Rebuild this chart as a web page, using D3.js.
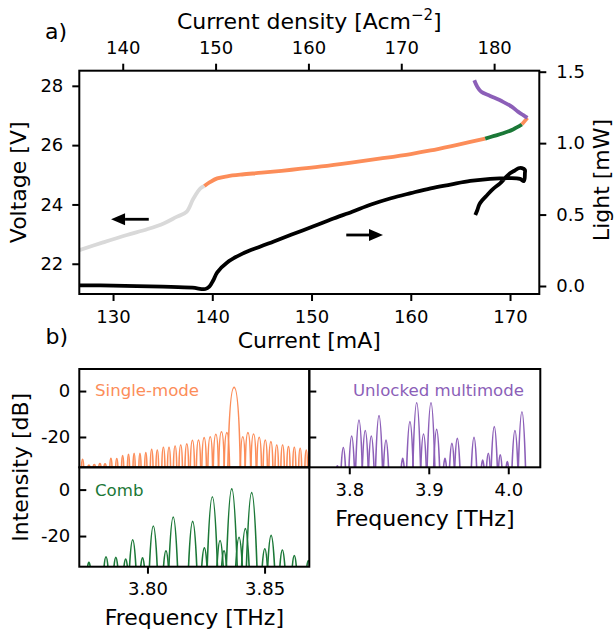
<!DOCTYPE html>
<html>
<head>
<meta charset="utf-8">
<script src="https://cdn.jsdelivr.net/npm/d3@7"></script>
<style>
  body { margin: 0; background: #fff; }
  text { font-family: "DejaVu Sans", sans-serif; }
</style>
</head>
<body>
<div id="chart"></div>
<script>
var w = 614, h = 632;

// a) voltage, split by regime (current mA / voltage V)
var greyI = [126.6, 129, 131.4, 133.5, 135.1, 136.4, 137.4, 138.1, 138.8, 139.2];
var greyV = [22.46, 22.72, 22.97, 23.17, 23.36, 23.58, 23.75, 24.2, 24.54, 24.62];
var singleI = [139.2, 139.8, 140.5, 141.5, 143, 145, 148, 151, 154, 157, 160, 162, 164, 166, 167.5];
var singleV = [24.62, 24.76, 24.88, 24.95, 25.01, 25.07, 25.17, 25.28, 25.41, 25.55, 25.7, 25.82, 25.96, 26.11, 26.22];
var combI = [167.5, 168.4, 169.3, 170.3, 171.2];
var combV = [26.22, 26.31, 26.4, 26.53, 26.7];
var single2I = [171.2, 171.75];
var single2V = [26.7, 26.92];
var unlockedI = [171.75, 171.3, 170.8, 170.2, 169.3, 168.0, 167.1, 166.7, 166.4];
var unlockedV = [26.92, 27.02, 27.13, 27.29, 27.46, 27.66, 27.8, 27.97, 28.19];

// a) light output (current mA / power mW)
var lightI = [126.6, 130, 135, 138, 139.3, 139.7, 140.1, 140.5, 141.5, 143, 144.8, 146.2, 148, 150.2, 152, 154.1,
  156, 158, 160, 162, 164, 166, 168, 170, 171.0, 171.4, 171.5, 171.5, 171.2, 170.85, 170.4, 170.0, 169.5,
  169.0, 168.3, 167.7, 167.2, 166.9, 166.7, 166.5];
var lightP = [0.005, 0.003, -0.005, -0.012, -0.021, -0.005, 0.04, 0.096, 0.165, 0.225, 0.275, 0.312, 0.36, 0.418, 0.467, 0.52,
  0.57, 0.614, 0.65, 0.684, 0.71, 0.735, 0.75, 0.755, 0.75, 0.735, 0.79, 0.812, 0.825, 0.824, 0.805, 0.789, 0.755,
  0.719, 0.68, 0.637, 0.6, 0.57, 0.53, 0.497];

var jPerMA = 1.0689; // current density per mA
var xTicks = [130, 140, 150, 160, 170];
var jTicks = [140, 150, 160, 170, 180];
var vTicks = [22, 24, 26, 28];
var pTicks = [0, 0.5, 1.0, 1.5];

// b) spectra peaks (frequency THz / intensity dB)
var smFreq = [3.7723, 3.7750, 3.7773, 3.7797, 3.7819, 3.7844, 3.7869, 3.7894, 3.7919, 3.7943, 3.7968, 3.7993,
  3.8018, 3.8042, 3.8068, 3.8092, 3.8118, 3.8142, 3.8168, 3.8192, 3.8218, 3.8242, 3.8268, 3.8292, 3.8316,
  3.8339, 3.8370, 3.8407, 3.8429, 3.8453, 3.8477, 3.8503, 3.8527, 3.8552, 3.8577, 3.8602, 3.8627, 3.8652, 3.8678];
var smDb = [-29.7, -32.2, -32, -31.6, -31.7, -29.3, -29.4, -28.1, -27.5, -27.1, -27.1, -26.8,
  -25.4, -25.7, -24.5, -24.5, -23.9, -23.5, -23.0, -21.4, -21.3, -20.3, -19.9, -18.8, -17.7,
  -18.1, 1.6, -19.9, -18.1, -18.7, -20.1, -21.3, -22.0, -23.5, -23.5, -24.2, -24.5, -24.9, -25.7];

var combFreq = [3.7750, 3.7823, 3.7865, 3.7907, 3.7937, 3.7979, 3.8025, 3.8079, 3.8110, 3.8193, 3.8243, 3.8277,
  3.8310, 3.8327, 3.8360, 3.8391, 3.8418, 3.8445, 3.8501, 3.8528, 3.8576, 3.8627, 3.8687];
var combDb = [-31.3, -28.9, -29.2, -29.9, -21.6, -29.4, -15.7, -26.3, -11.8, -13.7, -25.1, -3.1,
  -21.9, -26.3, 0.3, -20.5, -16.8, -1.3, -25.5, -19.7, -26.0, -28.4, -30.6];

var umFreq = [3.7850, 3.7925, 3.8030, 3.8122, 3.8201, 3.8277, 3.8374, 3.8462, 3.8672, 3.8763, 3.8848, 3.8934,
  3.9028, 3.9099, 3.9204, 3.9291, 3.9359, 3.9569, 3.9678, 3.9749, 3.9824, 3.9899, 3.9988, 4.0084, 4.0172];
var umDb = [-32.5, -24.6, -19.6, -12.6, -17.2, -19.6, -10.7, -21.3, -29.3, -13.3, -5.1, -18.7,
  -5.1, -16.7, -29.3, -22.8, -20.6, -20.1, -30.0, -27.1, -15.5, -27.8, -30.7, -17.2, -9.0];

var dbTicks = [0, -20];
var fTicks = [3.80, 3.85];
var fTicksU = [3.8, 3.9, 4.0];

var orange = "#fc8d59", green = "#1b7837", purple = "#8c5fb8", grey = "#d9d9d9";

var svg = d3.select("#chart").append("svg").attr("width", w).attr("height", h);

function zip(a, b) {
  return a.map(function(v, i) { return [v, b[i]]; });
}

function styleAxis(g, size) {
  g.select(".domain").remove();
  g.selectAll(".tick line").attr("stroke", "#000").attr("stroke-width", 2);
  g.selectAll(".tick text").attr("fill", "#000").style("font-size", size + "px")
    .style("font-family", "DejaVu Sans");
}

// ---------- a) ----------
var a = {left: 79.3, right: 539.3, top: 70.7, bottom: 294};
var x = d3.scaleLinear().domain([126.6, 172.95]).range([a.left, a.right]);
var xTop = d3.scaleLinear().domain([126.6 * jPerMA, 172.95 * jPerMA]).range([a.left, a.right]);
var yV = d3.scaleLinear().domain([20.98, 28.51]).range([a.bottom, a.top]);
var yL = d3.scaleLinear().domain([-0.056, 1.507]).range([a.bottom, a.top]);

svg.append("clipPath").attr("id", "clipA").append("rect")
  .attr("x", a.left).attr("y", a.top).attr("width", a.right - a.left).attr("height", a.bottom - a.top);

var plotA = svg.append("g").attr("clip-path", "url(#clipA)");

var lineV = d3.line().curve(d3.curveCatmullRom.alpha(0.5))
  .x(function(d) { return x(d[0]); }).y(function(d) { return yV(d[1]); });
var lineL = d3.line().curve(d3.curveCatmullRom.alpha(0.5))
  .x(function(d) { return x(d[0]); }).y(function(d) { return yL(d[1]); });

var vSegments = [
  {pts: zip(greyI, greyV), color: grey},
  {pts: zip(singleI, singleV), color: orange},
  {pts: zip(combI, combV), color: green},
  {pts: zip(single2I, single2V), color: orange},
  {pts: zip(unlockedI, unlockedV), color: purple}
];

plotA.selectAll("path.v").data(vSegments).enter().append("path")
  .attr("class", "v")
  .attr("d", function(d) { return lineV(d.pts); })
  .attr("fill", "none")
  .attr("stroke", function(d) { return d.color; })
  .attr("stroke-width", 3.8)
  .attr("stroke-linejoin", "round");

plotA.append("path")
  .attr("d", lineL(zip(lightI, lightP)))
  .attr("fill", "none")
  .attr("stroke", "#000")
  .attr("stroke-width", 3.8)
  .attr("stroke-linejoin", "round");

// arrows pointing to the relevant axis
function arrow(x1, y1, x2, y2) {
  var dir = x2 > x1 ? 1 : -1, head = 14, half = 6;
  svg.append("line").attr("x1", x1).attr("y1", y1).attr("x2", x2 - dir * head).attr("y2", y2)
    .attr("stroke", "#000").attr("stroke-width", 2.8);
  svg.append("path")
    .attr("d", "M" + x2 + "," + y2 + "L" + (x2 - dir * head) + "," + (y2 - half) + "L" + (x2 - dir * head) + "," + (y2 + half) + "Z")
    .attr("fill", "#000");
}
arrow(x(133.6), yV(23.5), x(129.8), yV(23.5));
arrow(x(153.5), yL(0.357), x(157.2), yL(0.357));

svg.append("g").attr("transform", "translate(0," + a.bottom + ")")
  .call(d3.axisBottom(x).tickValues(xTicks).tickSize(7).tickPadding(9))
  .call(styleAxis, 18);
svg.append("g").attr("transform", "translate(0," + a.top + ")")
  .call(d3.axisTop(xTop).tickValues(jTicks).tickSize(7).tickPadding(10))
  .call(styleAxis, 18);
svg.append("g").attr("transform", "translate(" + a.left + ",0)")
  .call(d3.axisLeft(yV).tickValues(vTicks).tickSize(7).tickPadding(9))
  .call(styleAxis, 18);
svg.append("g").attr("transform", "translate(" + a.right + ",0)")
  .call(d3.axisRight(yL).tickValues(pTicks).tickSize(7).tickPadding(10).tickFormat(d3.format(".1f")))
  .call(styleAxis, 18);

svg.append("rect").attr("x", a.left).attr("y", a.top)
  .attr("width", a.right - a.left).attr("height", a.bottom - a.top)
  .attr("fill", "none").attr("stroke", "#000").attr("stroke-width", 2);

svg.append("text").attr("x", 45).attr("y", 39).style("font-size", "22px").text("a)");
var jt = svg.append("text").attr("x", (a.left + a.right) / 2).attr("y", 29)
  .attr("text-anchor", "middle").style("font-size", "22px");
jt.append("tspan").text("Current density [Acm");
jt.append("tspan").attr("dy", -9).style("font-size", "15px").text("\u22122");
jt.append("tspan").attr("dy", 9).text("]");
svg.append("text").attr("x", (a.left + a.right) / 2).attr("y", 347.5)
  .attr("text-anchor", "middle").style("font-size", "22px").text("Current [mA]");
svg.append("text").attr("transform", "translate(26," + (a.top + a.bottom) / 2 + ") rotate(-90)")
  .attr("text-anchor", "middle").style("font-size", "22px").text("Voltage [V]");
svg.append("text").attr("transform", "translate(609,180) rotate(-90)")
  .attr("text-anchor", "middle").style("font-size", "22px").text("Light [mW]");

// ---------- b) ----------
svg.append("text").attr("x", 45.5).attr("y", 344).style("font-size", "22px").text("b)");

var bL = 79.3, bM = 309.3, bR = 540.3, bT = 369, bC = 467.3, bB = 566.7;
var dbDomain = [-33.2, 9.6];
var fx = d3.scaleLinear().domain([3.7709, 3.8691]).range([bL, bM]);
var fxU = d3.scaleLinear().domain([3.7497, 4.0403]).range([bM, bR]);
var yTopRow = d3.scaleLinear().domain(dbDomain).range([bC, bT]);
var yBotRow = d3.scaleLinear().domain(dbDomain).range([bB, bC]);

// parabolic lobe (constant curvature k)
function lobe(sx, sy, k) {
  return function(d) {
    var x0 = sx(d[0]), yt = sy(d[1]), yb = sy.range()[0];
    var half = Math.sqrt((yb - yt) / k);
    return "M" + (x0 - half) + "," + yb + "Q" + x0 + "," + (2 * yt - yb) + " " + (x0 + half) + "," + yb;
  };
}
// narrow spike whose base width grows with its height
function spike(sx, sy, s) {
  return function(d) {
    var x0 = sx(d[0]), yt = sy(d[1]), yb = sy.range()[0];
    var hp = yb - yt, half = Math.max(1.1, s * hp);
    return "M" + (x0 - half) + "," + yb +
      "C" + (x0 - 0.85 * half) + "," + (yb - 0.6 * hp) + " " + (x0 - 0.55 * half) + "," + yt + " " + x0 + "," + yt +
      "C" + (x0 + 0.55 * half) + "," + yt + " " + (x0 + 0.85 * half) + "," + (yb - 0.6 * hp) + " " + (x0 + half) + "," + yb;
  };
}

var panels = [
  {id: "sm", sx: fx, sy: yTopRow, freq: smFreq, db: smDb, color: orange, shape: spike(fx, yTopRow, 0.078), x0: bL, x1: bM, y0: bT, y1: bC},
  {id: "cb", sx: fx, sy: yBotRow, freq: combFreq, db: combDb, color: green, shape: lobe(fx, yBotRow, 2.65), x0: bL, x1: bM, y0: bC, y1: bB},
  {id: "um", sx: fxU, sy: yTopRow, freq: umFreq, db: umDb, color: purple, shape: lobe(fxU, yTopRow, 4.3), x0: bM, x1: bR, y0: bT, y1: bC}
];

panels.forEach(function(p) {
  svg.append("clipPath").attr("id", "clip-" + p.id).append("rect")
    .attr("x", p.x0).attr("y", p.y0).attr("width", p.x1 - p.x0).attr("height", p.y1 - p.y0);
  svg.append("g").attr("clip-path", "url(#clip-" + p.id + ")")
    .selectAll("path").data(zip(p.freq, p.db)).enter().append("path")
    .attr("d", p.shape)
    .attr("fill", "none")
    .attr("stroke", p.color)
    .attr("stroke-width", 1.6);
});

// y axes (ticks inside)
svg.append("g").attr("transform", "translate(" + bL + ",0)")
  .call(d3.axisLeft(yTopRow).tickValues(dbTicks).tickSizeInner(-7).tickSizeOuter(0).tickPadding(9).tickFormat(String))
  .call(styleAxis, 18);
svg.append("g").attr("transform", "translate(" + bL + ",0)")
  .call(d3.axisLeft(yBotRow).tickValues(dbTicks).tickSizeInner(-7).tickSizeOuter(0).tickPadding(9).tickFormat(String))
  .call(styleAxis, 18);
svg.append("g").attr("transform", "translate(" + bM + ",0)")
  .call(d3.axisLeft(yTopRow).tickValues(dbTicks).tickSizeInner(-7).tickSizeOuter(0).tickFormat(""))
  .call(styleAxis, 18);

// x axes
svg.append("g").attr("transform", "translate(0," + bB + ")")
  .call(d3.axisBottom(fx).tickValues(fTicks).tickSize(7).tickPadding(9).tickFormat(d3.format(".2f")))
  .call(styleAxis, 18);
svg.append("g").attr("transform", "translate(0," + bC + ")")
  .call(d3.axisBottom(fxU).tickValues(fTicksU).tickSize(7).tickPadding(9).tickFormat(d3.format(".1f")))
  .call(styleAxis, 18);

panels.forEach(function(p) {
  svg.append("rect").attr("x", p.x0).attr("y", p.y0)
    .attr("width", p.x1 - p.x0).attr("height", p.y1 - p.y0)
    .attr("fill", "none").attr("stroke", "#000").attr("stroke-width", 2);
});

svg.append("text").attr("x", 95).attr("y", 396).attr("fill", orange)
  .style("font-size", "16.6px").text("Single-mode");
svg.append("text").attr("x", 95).attr("y", 496).attr("fill", green)
  .style("font-size", "16.6px").text("Comb");
svg.append("text").attr("x", 524).attr("y", 396).attr("fill", purple)
  .attr("text-anchor", "end").style("font-size", "16.6px").text("Unlocked multimode");

svg.append("text").attr("x", (bL + bM) / 2).attr("y", 625)
  .attr("text-anchor", "middle").style("font-size", "22px").text("Frequency [THz]");
svg.append("text").attr("x", (bM + bR) / 2).attr("y", 525.5)
  .attr("text-anchor", "middle").style("font-size", "22px").text("Frequency [THz]");
svg.append("text").attr("transform", "translate(27.5," + bC + ") rotate(-90)")
  .attr("text-anchor", "middle").style("font-size", "22px").text("Intensity [dB]");
</script>
</body>
</html>
